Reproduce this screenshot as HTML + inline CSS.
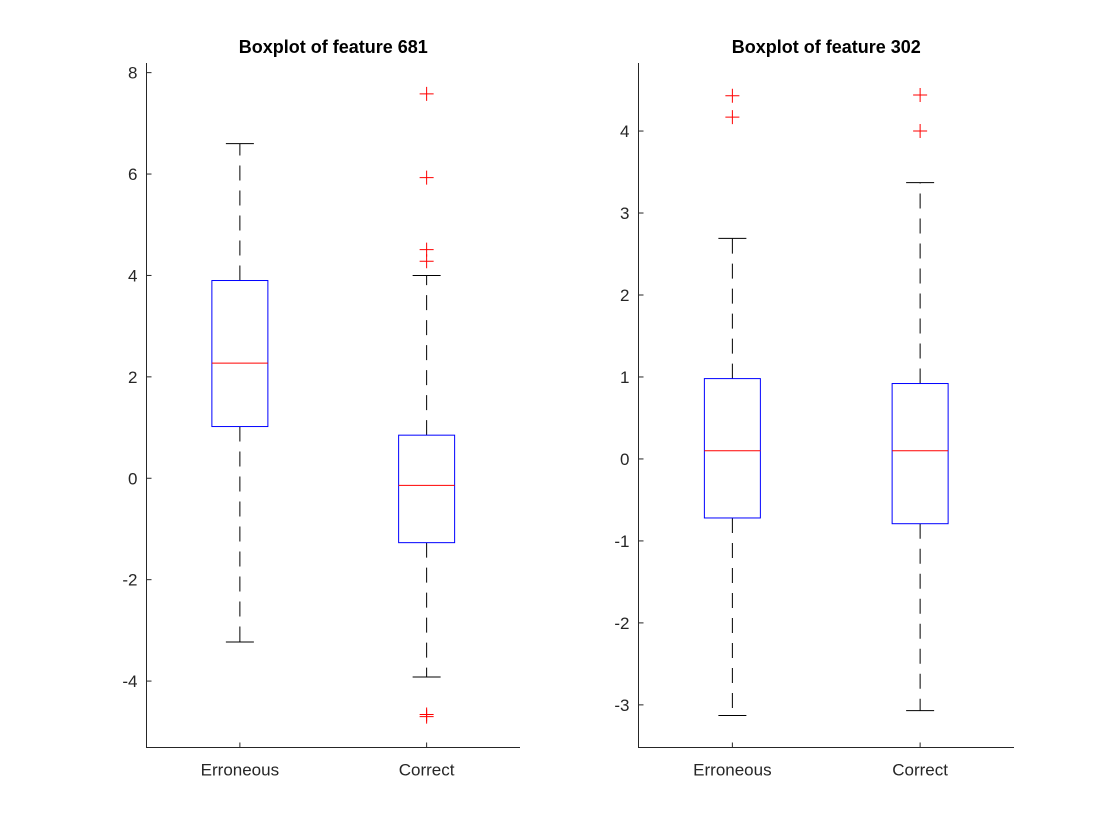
<!DOCTYPE html>
<html><head><meta charset="utf-8"><style>
html,body{margin:0;padding:0;background:#fff;}
svg{display:block;font-family:"Liberation Sans",Arial,sans-serif;}
</style></head><body>
<svg id="chart" width="1120" height="840" viewBox="0 0 1120 840"></svg>
<script>
const categories = ["Erroneous", "Correct"];
// feature 681: [lowerWhisker, q1, median, q3, upperWhisker]
const stats681 = [[-3.23, 1.02, 2.27, 3.9, 6.6], [-3.92, -1.27, -0.14, 0.85, 4.0]];
const outliers681 = [[], [7.58, 5.93, 4.51, 4.28, -4.66, -4.7]];
const ticks681 = [-4, -2, 0, 2, 4, 6, 8];
const stats302 = [[-3.13, -0.72, 0.1, 0.98, 2.69], [-3.07, -0.79, 0.1, 0.92, 3.37]];
const outliers302 = [[4.43, 4.17], [4.44, 4.0]];
const ticks302 = [-3, -2, -1, 0, 1, 2, 3, 4];

const NS = "http://www.w3.org/2000/svg";
const svg = document.getElementById("chart");
function mk(tag, attrs, parent) {
  const e = document.createElementNS(NS, tag);
  for (const k in attrs) e.setAttribute(k, attrs[k]);
  (parent || svg).appendChild(e);
  return e;
}
function panel(opt) {
  const g = mk("g", {});
  
  
  const {x0, x1, yTop, yBot, yMin, yMax} = opt;
  const y = v => yBot - (v - yMin) / (yMax - yMin) * (yBot - yTop);
  const xc = i => x0 + (x1 - x0) * (i + 0.5) / categories.length;
  // axes
  const ax = mk("path", {d: `M${x0} ${yTop}V${yBot}H${x1}`, stroke: "#262626", fill: "none", "stroke-width": 1}, g);
  
  
  opt.ticks.forEach(t => {
    const yy = y(t);
    mk("line", {x1: x0, x2: x0 + 5, y1: yy, y2: yy, stroke: "#262626"}, g);
    const tx = mk("text", {x: x0 - 9, y: yy + 6, "text-anchor": "end", "font-size": 17, fill: "#262626"}, g);
    tx.textContent = t;
    
    
  });
  categories.forEach((c, i) => {
    const cx = xc(i);
    mk("line", {x1: cx, x2: cx, y1: yBot, y2: yBot - 5, stroke: "#262626"}, g);
    const tx = mk("text", {x: cx, y: yBot + 28, "text-anchor": "middle", "font-size": 17, fill: "#262626"}, g);
    tx.textContent = c;
    
    
    const s = opt.stats[i];
    const bw = 28, cw = 14;
    const bg = mk("g", {}, g);
    
    
    mk("line", {x1: cx, x2: cx, y1: y(s[3]), y2: y(s[4]), stroke: "#000", "stroke-dasharray": "15 10"}, bg);
    mk("line", {x1: cx, x2: cx, y1: y(s[1]), y2: y(s[0]), stroke: "#000", "stroke-dasharray": "15 10"}, bg);
    mk("line", {x1: cx - cw, x2: cx + cw, y1: y(s[4]), y2: y(s[4]), stroke: "#000"}, bg);
    mk("line", {x1: cx - cw, x2: cx + cw, y1: y(s[0]), y2: y(s[0]), stroke: "#000"}, bg);
    mk("rect", {x: cx - bw, y: y(s[3]), width: 2 * bw, height: y(s[1]) - y(s[3]), fill: "none", stroke: "#0000ff"}, bg);
    mk("line", {x1: cx - bw, x2: cx + bw, y1: y(s[2]), y2: y(s[2]), stroke: "#ff0000"}, bg);
    opt.outliers[i].forEach(v => {
      const yy = y(v);
      const o = mk("path", {d: `M${cx - 7} ${yy}H${cx + 7}M${cx} ${yy - 7}V${yy + 7}`, stroke: "#ff0000", fill: "none"}, bg);
      
      
    });
  });
  const ti = mk("text", {x: (x0 + x1) / 2, y: 53, "text-anchor": "middle", "font-size": 18, "font-weight": "bold", fill: "#000"}, g);
  ti.textContent = opt.title;
  
  
}
panel({name: "panel-feature-681", title: "Boxplot of feature 681", x0: 146.5, x1: 520, yTop: 63, yBot: 747.5,
  yMin: -5.31, yMax: 8.19, ticks: ticks681, stats: stats681, outliers: outliers681});
panel({name: "panel-feature-302", title: "Boxplot of feature 302", x0: 638.5, x1: 1014, yTop: 63, yBot: 747.5,
  yMin: -3.52, yMax: 4.83, ticks: ticks302, stats: stats302, outliers: outliers302});
</script>
</body></html>
